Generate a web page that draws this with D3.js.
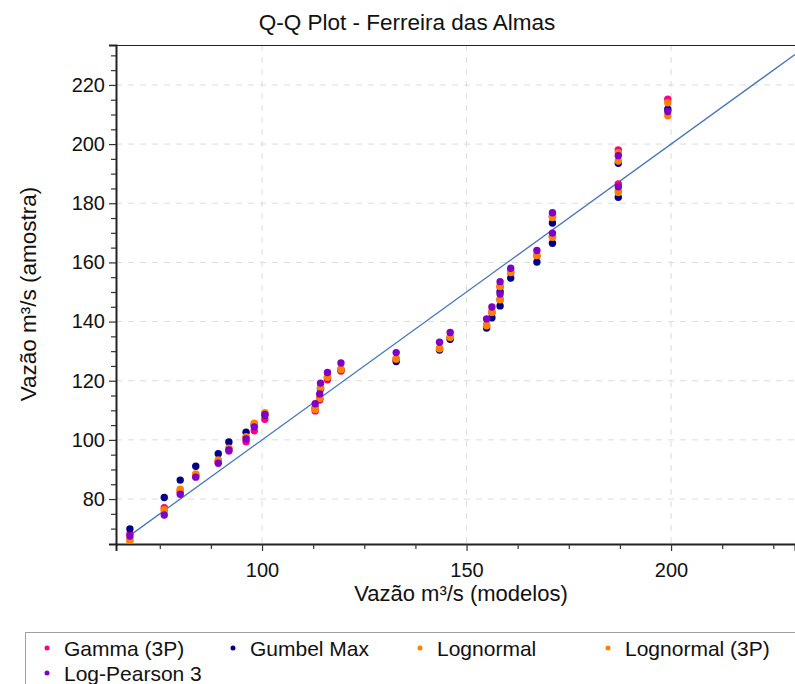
<!DOCTYPE html>
<html>
<head>
<meta charset="utf-8">
<script src="https://cdn.jsdelivr.net/npm/d3@7"></script>
<style>
  html, body { margin: 0; padding: 0; background: #fff; }
  svg { display: block; font-family: "Liberation Sans", Arial, sans-serif; }
</style>
</head>
<body>
<svg id="chart" width="795" height="684"></svg>
<script>
// Model quantiles (x) and sample quantiles for each fitted distribution (y)
const modelQ = [67.7, 76.1, 80.0, 83.8, 89.3, 91.9, 96.1, 98.1, 100.7, 113.0, 114.1, 114.3, 116.0, 119.3,
  132.8, 143.4, 146.0, 154.9, 156.2, 158.2, 158.2, 160.8, 167.2, 171.0, 171.0, 187.1, 187.1, 199.2];
const gamma3p = [68.2, 77.1, 82.4, 87.8, 92.6, 96.2, 99.4, 103.1, 107.0, 109.8, 113.5, 117.1, 120.3, 123.3,
  127.2, 130.8, 134.5, 138.5, 143.0, 147.3, 151.7, 156.5, 162.2, 168.7, 175.6, 186.5, 198.0, 215.2];
const gumbelMax = [69.9, 80.5, 86.4, 91.1, 95.3, 99.3, 102.6, 105.2, 108.4, 110.8, 114.0, 117.5, 121.0, 123.6,
  126.5, 130.4, 134.0, 137.8, 141.3, 145.3, 150.1, 154.7, 160.1, 166.5, 173.3, 182.0, 193.5, 211.8];
const lognormal = [65.9, 76.4, 83.3, 88.5, 93.2, 97.2, 101.1, 105.6, 109.2, 110.5, 114.3, 117.9, 121.4, 124.0,
  127.5, 131.0, 134.9, 138.9, 143.4, 147.7, 152.1, 156.9, 162.5, 168.7, 175.5, 184.3, 197.1, 214.0];
const lognormal3p = [66.3, 76.0, 82.9, 88.2, 92.9, 97.0, 100.8, 105.0, 108.8, 110.3, 114.0, 117.6, 121.1, 123.7,
  127.3, 130.8, 134.6, 138.6, 143.1, 147.4, 151.8, 156.6, 162.3, 168.5, 175.2, 183.6, 194.3, 209.6];
const logPearson3 = [67.5, 74.6, 81.6, 87.4, 92.1, 96.6, 100.3, 104.4, 108.6, 112.2, 115.5, 119.2, 122.8, 126.0,
  129.5, 133.0, 136.3, 140.9, 144.9, 149.3, 153.5, 158.0, 164.0, 169.9, 176.8, 185.6, 196.1, 211.0];

const seriesNames = ["Gamma (3P)", "Gumbel Max", "Lognormal", "Lognormal (3P)", "Log-Pearson 3"];
const seriesColors = ["#FF0080", "#00008B", "#FF8000", "#FF8000", "#8000C8"];
const seriesValues = [gamma3p, gumbelMax, lognormal, lognormal3p, logPearson3];

const xMajorTicks = [100, 150, 200];
const xMinorTicks = [75, 87.5, 112.5, 125, 137.5, 162.5, 175, 187.5, 212.5, 225];
const yMajorTicks = [80, 100, 120, 140, 160, 180, 200, 220];
const yMinorTicks = [70, 75, 85, 90, 95, 105, 110, 115, 125, 130, 135, 145, 150, 155, 165, 170, 175, 185, 190, 195, 205, 210, 215, 225, 230];
const xDomain = [64.3, 230.3];
const yDomain = [64.8, 233.5];
const refLine = [67.3, 230.3];

const svg = d3.select("#chart");
const plotLeft = 116, plotTop = 45, plotRight = 795, plotBottom = 544;

const x = d3.scaleLinear().domain(xDomain).range([plotLeft, plotRight]);
const y = d3.scaleLinear().domain(yDomain).range([plotBottom, plotTop]);

// Title
svg.append("text")
  .attr("x", 407).attr("y", 30)
  .attr("text-anchor", "middle")
  .attr("font-size", 22.5).attr("fill", "#111")
  .text("Q-Q Plot - Ferreira das Almas");

// Dashed grid at the major ticks
const grid = svg.append("g").attr("stroke", "#dcdcdc").attr("stroke-dasharray", "6,6").attr("stroke-width", 1);
grid.selectAll("line.gx").data(xMajorTicks).join("line").attr("class", "gx")
  .attr("x1", d => x(d)).attr("x2", d => x(d)).attr("y1", plotTop).attr("y2", plotBottom);
grid.selectAll("line.gy").data(yMajorTicks).join("line").attr("class", "gy")
  .attr("x1", plotLeft).attr("x2", plotRight).attr("y1", d => y(d)).attr("y2", d => y(d));

// Top frame edge
svg.append("line").attr("x1", plotLeft).attr("x2", plotRight).attr("y1", plotTop + 0.5).attr("y2", plotTop + 0.5)
  .attr("stroke", "#222").attr("stroke-width", 1);

// Axes
svg.append("g").attr("transform", `translate(0,${plotBottom})`)
  .call(d3.axisBottom(x).tickValues(xMajorTicks).tickSize(7).tickPadding(12).tickFormat(d3.format("d")));
svg.append("g").attr("transform", `translate(0,${plotBottom})`)
  .call(d3.axisBottom(x).tickValues(xMinorTicks).tickSize(5).tickFormat(""))
  .call(g => g.select(".domain").remove());
svg.append("g").attr("transform", `translate(${plotLeft},0)`)
  .call(d3.axisLeft(y).tickValues(yMajorTicks).tickSize(7).tickPadding(4).tickFormat(d3.format("d")));
svg.append("g").attr("transform", `translate(${plotLeft},0)`)
  .call(d3.axisLeft(y).tickValues(yMinorTicks).tickSize(5).tickFormat(""))
  .call(g => g.select(".domain").remove());

svg.selectAll(".domain").attr("stroke", "#222").attr("stroke-width", 2);
svg.selectAll(".tick line").attr("stroke", "#333").attr("stroke-width", 1.2);
svg.selectAll(".tick text").attr("font-size", 20).attr("fill", "#111")
  .attr("font-family", "'Liberation Sans', Arial, sans-serif");

// Axis titles
svg.append("text")
  .attr("x", 461).attr("y", 601)
  .attr("text-anchor", "middle").attr("font-size", 22).attr("fill", "#111")
  .text("Vazão m³/s (modelos)");
svg.append("text")
  .attr("transform", "translate(36,294) rotate(-90)")
  .attr("text-anchor", "middle").attr("font-size", 22.5).attr("fill", "#111")
  .text("Vazão m³/s (amostra)");

// Clip for plot marks
svg.append("clipPath").attr("id", "plotClip")
  .append("rect").attr("x", plotLeft + 1).attr("y", plotTop).attr("width", plotRight - plotLeft).attr("height", plotBottom - plotTop - 1);
const plot = svg.append("g").attr("clip-path", "url(#plotClip)");

// 1:1 reference line
plot.append("line")
  .attr("x1", x(refLine[0])).attr("y1", y(refLine[0]))
  .attr("x2", x(refLine[1])).attr("y2", y(refLine[1]))
  .attr("stroke", "#4472C4").attr("stroke-width", 1.3);

// Points per distribution
seriesValues.forEach((vals, i) => {
  plot.append("g").selectAll("circle")
    .data(vals.map((v, j) => [modelQ[j], v]))
    .join("circle")
    .attr("cx", d => x(d[0])).attr("cy", d => y(d[1]))
    .attr("r", 3.7)
    .attr("fill", seriesColors[i]);
});

// Legend
const legend = svg.append("g");
legend.append("rect")
  .attr("x", 25.5).attr("y", 632.5).attr("width", 780).attr("height", 70)
  .attr("fill", "#fff").attr("stroke", "#a0a0a0").attr("stroke-width", 1);
const legendPos = [[47, 648], [233, 648], [420, 648], [608, 648], [47, 673]];
seriesNames.forEach((name, i) => {
  const [lx, ly] = legendPos[i];
  legend.append("circle").attr("cx", lx).attr("cy", ly).attr("r", 2.5).attr("fill", seriesColors[i]);
  legend.append("text").attr("x", lx + 17).attr("y", ly + 7.5)
    .attr("font-size", 21).attr("fill", "#111").text(name);
});
</script>
</body>
</html>
